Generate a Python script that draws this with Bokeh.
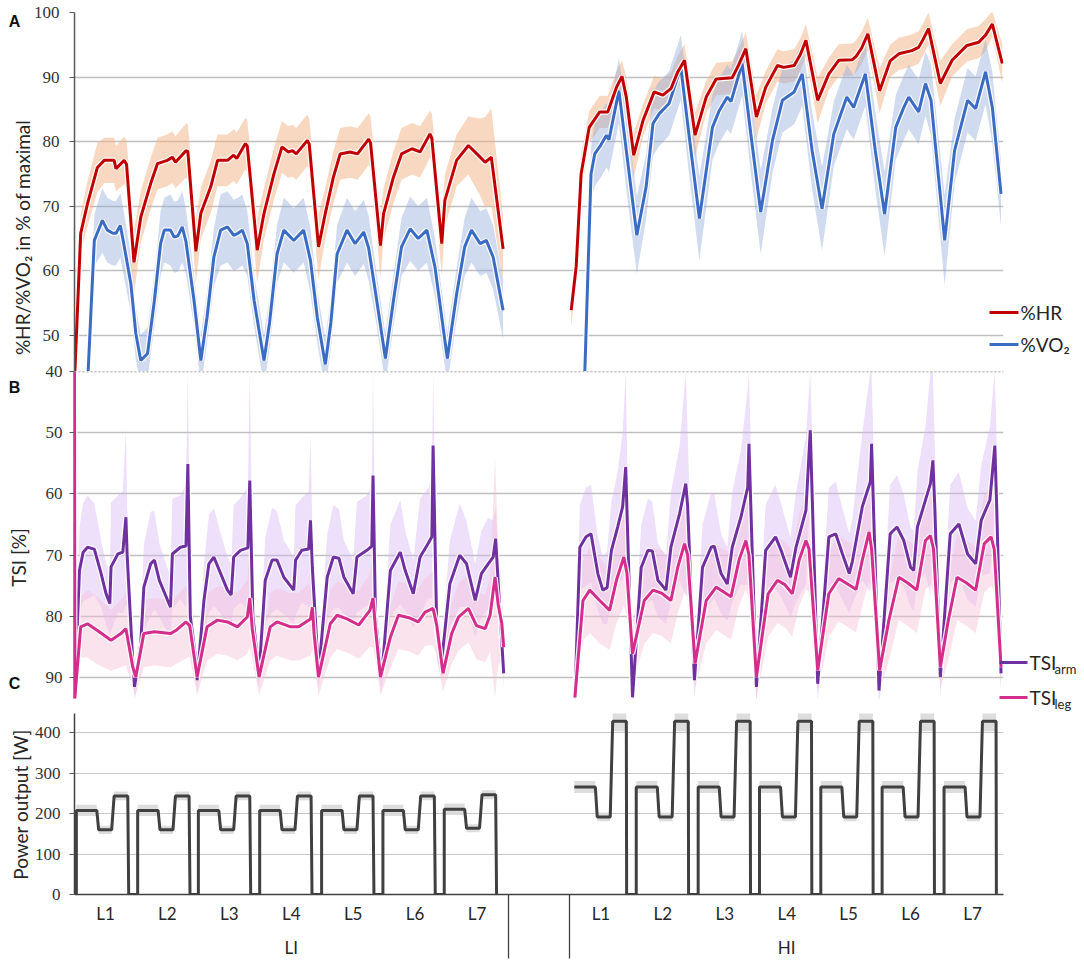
import math
from bokeh.plotting import figure
from bokeh.models import Range1d, FixedTicker, Span, ColumnDataSource, LinearAxis
from bokeh.layouts import column, row
from bokeh.embed import file_html
from bokeh.resources import INLINE
from bokeh.core.properties import value

# ---------------- data (x in lap units: LI laps 0-7, gap 7-8, HI laps 8-15) ----------------
CATEGORIES = ["L1", "L2", "L3", "L4", "L5", "L6", "L7"]
GROUPS = ["LI", "HI"]
LI_CENTERS = [0.5, 1.5, 2.5, 3.5, 4.5, 5.5, 6.5]
HI_CENTERS = [8.5, 9.5, 10.5, 11.5, 12.5, 13.5, 14.5]
GROUP_CENTERS = [3.5, 11.5]
GROUP_BOUNDS = [7, 8]

# (time, mean, sd)
HR_LI = [
    (0.00, 43.0, 2.0), (0.10, 65.8, 3.0), (0.21, 70.4, 3.5), (0.37, 76.0, 3.8), (0.48, 77.1, 3.5),
    (0.64, 77.1, 3.5), (0.67, 75.8, 3.5), (0.80, 77.1, 3.7), (0.84, 76.5, 3.8), (0.96, 61.3, 5.0),
    (1.07, 68.3, 4.0), (1.23, 73.5, 4.0), (1.34, 76.6, 4.0), (1.50, 77.1, 4.0), (1.58, 77.6, 4.0),
    (1.63, 76.8, 4.0), (1.80, 78.6, 4.2), (1.83, 78.5, 4.2), (1.96, 63.0, 5.0),
    (2.04, 68.9, 4.0), (2.20, 73.0, 4.0), (2.31, 77.1, 4.0), (2.47, 77.1, 4.0), (2.57, 77.9, 4.0),
    (2.62, 77.4, 4.0), (2.76, 79.7, 4.0), (2.79, 79.3, 4.0), (2.95, 63.2, 5.0),
    (3.06, 68.9, 4.0), (3.22, 75.0, 4.0), (3.35, 79.2, 4.0), (3.45, 78.4, 4.0), (3.52, 78.6, 4.0),
    (3.58, 78.1, 4.0), (3.76, 80.2, 4.0), (3.79, 79.6, 4.0), (3.94, 63.7, 5.0),
    (4.05, 68.9, 4.0), (4.18, 74.5, 4.0), (4.29, 78.1, 4.0), (4.45, 78.4, 4.0), (4.57, 78.1, 4.0),
    (4.75, 80.4, 4.0), (4.78, 79.8, 4.0), (4.94, 63.9, 5.0),
    (4.99, 68.8, 4.0), (5.15, 74.5, 4.0), (5.28, 78.1, 4.0), (5.45, 78.9, 4.0), (5.58, 78.4, 4.0),
    (5.74, 81.2, 3.6), (5.77, 80.5, 3.8), (5.93, 64.2, 5.0),
    (5.98, 70.9, 4.0), (6.17, 77.1, 4.0), (6.36, 79.4, 4.5), (6.55, 77.6, 6.0), (6.63, 76.8, 7.0),
    (6.73, 77.6, 7.5), (6.92, 63.4, 5.0),
]
VO2_LI = [
    (0.22, 44.4, 1.0), (0.32, 64.7, 4.0), (0.45, 67.8, 5.0), (0.53, 66.3, 5.0), (0.62, 65.8, 5.0),
    (0.67, 65.8, 5.0), (0.74, 67.0, 5.0), (0.79, 64.5, 5.0), (0.91, 58.0, 4.5), (0.99, 50.3, 4.0),
    (1.07, 46.1, 4.0),
    (1.18, 47.2, 4.0), (1.29, 55.4, 4.0), (1.39, 64.2, 5.0), (1.45, 66.3, 5.0), (1.55, 66.3, 5.5),
    (1.61, 65.2, 5.5), (1.67, 65.4, 5.5), (1.74, 66.8, 5.5), (1.80, 64.5, 5.0), (1.93, 55.4, 4.0),
    (2.04, 46.1, 4.0),
    (2.14, 52.8, 4.0), (2.25, 62.1, 4.5), (2.36, 66.3, 5.5), (2.47, 66.8, 5.5), (2.57, 65.5, 5.5),
    (2.64, 65.8, 5.5), (2.71, 66.3, 5.5), (2.79, 64.2, 5.0), (2.90, 55.4, 4.0), (3.06, 46.1, 4.0),
    (3.15, 52.0, 4.0), (3.27, 62.6, 4.5), (3.38, 66.3, 5.0), (3.54, 64.7, 5.0), (3.70, 66.3, 5.0),
    (3.81, 61.6, 5.0), (3.92, 52.8, 4.0), (4.05, 45.5, 4.0),
    (4.14, 52.0, 4.0), (4.24, 62.6, 4.5), (4.40, 66.3, 5.0), (4.53, 64.2, 5.0), (4.67, 66.0, 5.0),
    (4.75, 63.5, 5.0), (4.88, 55.4, 4.0), (5.02, 46.4, 4.0),
    (5.15, 55.4, 4.0), (5.28, 63.7, 4.5), (5.42, 66.5, 5.0), (5.55, 65.0, 5.0), (5.69, 66.3, 5.0),
    (5.82, 60.6, 4.5), (6.02, 46.4, 4.0),
    (6.17, 56.4, 4.0), (6.30, 63.7, 4.5), (6.41, 66.3, 5.0), (6.55, 64.2, 5.0), (6.65, 64.7, 5.0),
    (6.76, 62.1, 5.0), (6.92, 53.9, 4.5),
]
HR_HI = [
    (8.02, 53.9, 2.5), (8.10, 60.6, 3.0), (8.18, 75.0, 3.0), (8.31, 82.2, 2.5), (8.48, 84.6, 2.5),
    (8.61, 84.6, 2.5), (8.75, 88.4, 2.5), (8.84, 90.1, 2.5), (8.91, 86.9, 3.0), (9.03, 77.9, 3.5),
    (9.18, 83.3, 2.5), (9.36, 87.7, 2.5), (9.50, 87.2, 2.5), (9.63, 88.2, 2.5), (9.74, 90.8, 2.5),
    (9.85, 92.6, 2.5), (10.02, 81.0, 3.5),
    (10.20, 86.9, 2.5), (10.36, 89.7, 2.5), (10.62, 89.9, 2.5), (10.72, 91.8, 2.5), (10.84, 94.4, 2.5),
    (11.01, 83.8, 3.5),
    (11.16, 88.4, 2.5), (11.35, 91.8, 2.5), (11.45, 91.5, 2.5), (11.62, 91.8, 2.5), (11.72, 93.5, 2.5),
    (11.81, 95.7, 2.5), (12.00, 86.4, 3.5),
    (12.18, 90.5, 2.5), (12.34, 92.6, 2.5), (12.56, 92.7, 2.5), (12.62, 93.2, 2.5), (12.71, 94.5, 2.5),
    (12.81, 96.7, 2.5), (13.00, 87.9, 3.5),
    (13.17, 92.5, 2.5), (13.31, 93.6, 2.5), (13.52, 94.1, 2.5), (13.63, 94.6, 2.5), (13.70, 95.8, 2.5),
    (13.79, 97.5, 2.5), (13.98, 89.0, 3.5),
    (14.17, 92.6, 2.5), (14.41, 94.9, 2.5), (14.60, 95.4, 2.5), (14.71, 96.5, 2.5), (14.82, 98.2, 2.0),
    (14.98, 92.1, 3.0),
]
VO2_HI = [
    (8.24, 44.4, 1.0), (8.34, 75.0, 4.0), (8.40, 78.1, 5.0), (8.50, 79.5, 5.0), (8.59, 81.0, 5.0),
    (8.63, 80.3, 5.0), (8.79, 87.9, 5.0), (8.91, 78.6, 6.0), (9.08, 65.5, 6.0),
    (9.23, 73.0, 5.0), (9.34, 82.8, 5.0), (9.44, 84.3, 5.0), (9.55, 85.4, 5.0), (9.60, 85.9, 5.0),
    (9.79, 91.5, 5.0), (9.92, 81.2, 6.0), (10.09, 68.1, 6.5),
    (10.30, 82.2, 5.0), (10.41, 84.8, 5.0), (10.54, 86.9, 5.0), (10.60, 86.2, 5.0), (10.78, 92.1, 5.0),
    (10.92, 81.2, 6.0), (11.08, 69.1, 6.5),
    (11.27, 80.2, 5.0), (11.43, 86.4, 5.0), (11.62, 87.7, 5.0), (11.75, 90.5, 5.0), (11.91, 78.6, 6.0),
    (12.07, 69.6, 6.5),
    (12.26, 81.2, 5.0), (12.47, 86.9, 5.0), (12.58, 85.3, 5.0), (12.77, 90.5, 5.0), (12.93, 78.6, 6.0),
    (13.08, 68.8, 6.5),
    (13.26, 82.2, 5.0), (13.39, 85.3, 5.0), (13.47, 86.9, 5.0), (13.63, 84.6, 5.0), (13.74, 89.0, 5.0),
    (13.83, 86.4, 5.5), (14.05, 64.7, 7.0),
    (14.21, 78.6, 5.0), (14.42, 86.4, 5.0), (14.55, 85.1, 5.0), (14.71, 90.8, 5.0), (14.82, 85.3, 5.5),
    (14.96, 71.9, 5.0),
]
ARM_LI = [
    (0.00, 93.4, 1.0), (0.08, 72.5, 7.0), (0.14, 69.5, 8.0), (0.21, 68.7, 8.5), (0.32, 69.0, 7.5),
    (0.43, 73.0, 5.5), (0.51, 76.3, 5.0), (0.57, 77.9, 5.0), (0.59, 71.9, 10.5), (0.70, 69.8, 9.5),
    (0.78, 69.5, 10.0), (0.83, 63.8, 14.5), (0.85, 70.0, 8.0), (0.94, 87.2, 3.0), (0.97, 91.5, 2.0),
    (1.07, 84.4, 4.0), (1.12, 75.2, 7.0), (1.23, 71.4, 8.5), (1.29, 70.8, 8.0), (1.37, 74.1, 6.0),
    (1.55, 78.5, 5.0), (1.58, 69.8, 9.0), (1.71, 68.7, 8.5), (1.80, 68.5, 10.0), (1.83, 55.1, 15.1),
    (1.87, 80.0, 6.0), (1.96, 87.2, 3.0), (1.98, 90.4, 2.0),
    (2.09, 77.4, 6.0), (2.17, 71.4, 8.0), (2.25, 70.3, 8.0), (2.36, 73.0, 6.5), (2.47, 75.7, 5.5),
    (2.53, 76.5, 5.0), (2.57, 70.3, 8.5), (2.68, 69.2, 8.5), (2.80, 68.8, 10.0), (2.83, 57.8, 17.8),
    (2.88, 80.0, 6.0), (2.98, 89.3, 2.5),
    (3.08, 74.1, 7.0), (3.19, 70.8, 8.5), (3.27, 70.8, 8.0), (3.38, 73.6, 6.0), (3.54, 75.7, 5.5),
    (3.57, 70.8, 9.0), (3.67, 69.2, 8.5), (3.78, 69.0, 9.5), (3.81, 64.3, 13.6), (3.84, 72.0, 7.0),
    (3.94, 89.3, 2.5),
    (4.08, 73.6, 7.0), (4.18, 70.3, 8.5), (4.27, 70.5, 8.0), (4.35, 73.6, 6.0), (4.50, 76.3, 5.5),
    (4.56, 70.3, 9.0), (4.72, 69.2, 9.0), (4.80, 68.5, 10.0), (4.82, 57.0, 17.0), (4.86, 80.0, 6.0),
    (4.96, 89.9, 2.5),
    (5.10, 72.5, 7.5), (5.26, 69.5, 8.5), (5.34, 72.5, 6.5), (5.47, 76.3, 5.5), (5.58, 70.3, 9.5),
    (5.71, 68.1, 9.0), (5.77, 67.0, 10.0), (5.79, 52.1, 12.1), (5.85, 82.3, 5.0), (5.93, 87.2, 3.0),
    (6.06, 74.7, 7.0), (6.22, 70.0, 8.5), (6.33, 71.4, 7.0), (6.47, 77.4, 6.0), (6.57, 73.0, 7.0),
    (6.68, 71.4, 7.5), (6.76, 70.3, 6.0), (6.80, 67.3, 5.0), (6.85, 76.0, 4.0), (6.93, 89.3, 2.5),
]
LEG_LI = [
    (0.000, 40.0, 0.0), (0.005, 93.4, 0.5), (0.10, 81.7, 5.0), (0.21, 81.2, 5.5), (0.37, 82.3, 5.5),
    (0.59, 83.9, 5.0), (0.75, 82.8, 5.5), (0.83, 82.0, 6.0), (0.94, 88.2, 3.5), (0.99, 89.9, 3.0),
    (1.12, 82.8, 5.5), (1.29, 82.5, 5.5), (1.55, 82.8, 5.5), (1.65, 82.2, 5.5), (1.80, 80.9, 6.0),
    (1.86, 81.5, 5.0), (1.98, 89.9, 3.0),
    (2.14, 81.7, 5.5), (2.31, 80.6, 5.5), (2.47, 80.9, 5.5), (2.63, 81.7, 5.5), (2.79, 80.1, 6.0),
    (2.83, 77.0, 8.0), (2.87, 82.0, 5.0), (2.98, 89.9, 3.0),
    (3.16, 81.7, 5.5), (3.27, 80.9, 5.5), (3.49, 81.7, 5.5), (3.62, 81.7, 5.5), (3.81, 80.4, 6.0),
    (3.84, 78.5, 7.0), (3.87, 83.0, 5.0), (3.94, 89.9, 3.0),
    (4.13, 81.2, 5.5), (4.24, 79.8, 5.5), (4.40, 80.4, 5.5), (4.59, 81.4, 5.5), (4.77, 79.0, 6.0),
    (4.82, 77.0, 8.0), (4.86, 82.0, 5.0), (4.94, 89.9, 3.0),
    (5.10, 83.4, 5.0), (5.23, 79.8, 5.5), (5.40, 80.2, 5.5), (5.55, 80.9, 5.5), (5.66, 79.3, 5.5),
    (5.79, 78.7, 6.0), (5.85, 81.5, 5.0), (5.95, 89.3, 3.0),
    (6.09, 82.8, 5.0), (6.20, 80.1, 5.5), (6.36, 78.7, 5.5), (6.49, 81.5, 5.5), (6.63, 82.0, 5.5),
    (6.71, 79.8, 6.0), (6.79, 73.6, 19.6), (6.84, 78.0, 10.0), (6.90, 81.2, 6.0), (6.93, 85.0, 4.0),
]
ARM_HI = [
    (8.08, 93.2, 1.0), (8.16, 68.7, 7.0), (8.26, 67.0, 8.0), (8.34, 66.5, 8.0), (8.45, 73.0, 6.0),
    (8.53, 75.7, 5.5), (8.60, 75.3, 6.0), (8.67, 69.2, 8.0), (8.77, 65.4, 9.0), (8.85, 62.1, 12.0),
    (8.90, 55.6, 15.6), (8.93, 66.0, 8.0), (9.01, 93.2, 2.0),
    (9.15, 72.0, 7.0), (9.26, 69.2, 8.5), (9.33, 69.3, 8.0), (9.42, 74.1, 6.0), (9.55, 75.7, 5.5),
    (9.63, 68.7, 9.0), (9.77, 63.2, 11.0), (9.87, 58.3, 18.3), (9.90, 62.0, 12.0), (10.01, 90.4, 3.0),
    (10.14, 72.0, 7.0), (10.28, 68.7, 9.0), (10.33, 68.5, 8.5), (10.44, 73.0, 6.5), (10.54, 74.7, 6.0),
    (10.62, 68.7, 9.0), (10.76, 63.8, 11.0), (10.87, 58.9, 16.0), (10.89, 51.8, 11.8), (10.92, 62.0, 10.0),
    (11.01, 91.5, 3.0),
    (11.16, 69.2, 7.5), (11.32, 67.0, 8.5), (11.42, 69.5, 7.5), (11.56, 73.6, 6.5), (11.65, 68.7, 9.0),
    (11.81, 62.7, 12.0), (11.88, 49.6, 9.6), (11.91, 60.0, 10.0), (12.00, 91.0, 3.0),
    (12.18, 67.0, 8.0), (12.29, 66.5, 8.5), (12.40, 69.8, 7.5), (12.51, 73.0, 6.5), (12.56, 71.0, 7.0),
    (12.72, 62.1, 12.0), (12.85, 58.0, 18.0), (12.87, 51.8, 11.8), (12.90, 62.0, 10.0), (12.99, 92.1, 3.0),
    (13.17, 66.5, 8.0), (13.28, 65.4, 8.5), (13.39, 67.6, 7.5), (13.50, 72.0, 6.5), (13.55, 72.5, 6.5),
    (13.61, 65.4, 9.0), (13.74, 61.0, 12.0), (13.82, 58.3, 18.3), (13.86, 54.5, 14.5), (13.89, 62.0, 10.0),
    (13.98, 89.9, 3.0),
    (14.14, 66.5, 8.0), (14.28, 64.9, 8.5), (14.42, 69.8, 7.5), (14.55, 71.4, 7.0), (14.64, 64.3, 9.0),
    (14.78, 61.0, 12.0), (14.86, 52.1, 12.1), (14.89, 62.0, 10.0), (14.96, 89.3, 3.0),
]
LEG_HI = [
    (8.08, 93.2, 1.0), (8.21, 77.4, 6.5), (8.32, 75.7, 7.0), (8.48, 77.4, 7.0), (8.64, 79.0, 6.5),
    (8.75, 74.1, 7.0), (8.87, 70.3, 8.0), (8.92, 73.0, 7.0), (9.01, 86.1, 5.0),
    (9.20, 77.4, 7.0), (9.34, 75.7, 7.0), (9.48, 76.2, 7.0), (9.63, 77.4, 7.0), (9.74, 72.0, 7.5),
    (9.85, 68.1, 8.0), (9.90, 70.0, 7.0), (10.02, 87.7, 4.0),
    (10.20, 77.4, 7.0), (10.36, 75.2, 7.0), (10.60, 76.8, 7.0), (10.73, 70.8, 7.5), (10.84, 67.6, 8.0),
    (10.89, 70.0, 7.0), (11.01, 89.9, 3.5),
    (11.20, 76.3, 7.0), (11.35, 74.1, 7.0), (11.47, 74.8, 7.0), (11.59, 76.3, 7.0), (11.70, 70.8, 7.5),
    (11.81, 67.6, 8.0), (11.86, 69.0, 7.0), (12.00, 88.8, 3.5),
    (12.18, 76.3, 7.0), (12.34, 73.8, 7.0), (12.56, 75.2, 7.0), (12.62, 75.6, 7.0), (12.72, 70.8, 7.5),
    (12.83, 66.2, 8.0), (12.87, 69.0, 7.0), (13.00, 88.8, 3.5),
    (13.15, 80.6, 6.5), (13.31, 73.6, 7.0), (13.45, 74.5, 7.0), (13.60, 75.7, 7.0), (13.74, 67.6, 8.0),
    (13.82, 66.8, 8.0), (13.87, 69.0, 7.0), (13.98, 88.3, 3.5),
    (14.11, 80.6, 6.5), (14.25, 73.6, 7.0), (14.40, 74.5, 7.0), (14.55, 75.7, 7.0), (14.69, 68.1, 8.0),
    (14.80, 67.0, 8.0), (14.85, 69.0, 7.0), (14.96, 88.3, 3.5),
]

# power output: lap start times, stage levels [W], stage SD [W], stage on/off (relative to lap start)
LI_START = [0.03, 1.02, 2.00, 2.99, 3.99, 4.98, 5.97]
LI_LEVELS = [[208, 160, 244], [208, 160, 244], [208, 160, 244], [208, 160, 244],
             [208, 160, 244], [208, 160, 244], [211, 164, 247]]
LI_SD = [14, 10, 11]
LI_PHASES = [(0.0, 0.33), (0.36, 0.57), (0.61, 0.83)]
HI_START = [8.07, 9.07, 10.07, 11.06, 12.05, 13.04, 14.04]
HI_LEVELS = [[266, 192, 429], [266, 192, 429], [266, 192, 429], [266, 192, 429],
             [266, 192, 429], [266, 192, 429], [266, 192, 429]]
HI_SD = [15, 11, 25]
HI_PHASES = [(0.0, 0.34), (0.37, 0.58), (0.62, 0.84)]
HI_FIRST_FROM_ZERO = False
LAP_END = 0.845

# texts placed on the transparent overlay (page pixels)
PANEL_LETTERS = ["A", "B", "C"]
Y_TITLES = ["%HR/%VO₂ in % of maximal", "TSI [%]", "Power output [W]"]
LEGEND_A = ["%HR", "%VO₂"]
LEGEND_B = ["TSI", "TSI"]
LEGEND_B_SUB = ["arm", "leg"]

# ---------------- styling ----------------
FW = 929
LEFT, RIGHT = 74, 70
TOTAL_W = LEFT + FW + RIGHT
SANS = "Lato"
SERIF = "Liberation Serif"
TXT = "#262626"
AX = "#595959"
C_HR, C_VO2, C_ARM, C_LEG = "#c00000", "#3b6cc4", "#7030a0", "#d42d8c"
SEP_LEN = 64


def src(rows):
    return ColumnDataSource(dict(
        t=[r[0] for r in rows], v=[r[1] for r in rows],
        lo=[r[1] - r[2] for r in rows], hi=[r[1] + r[2] for r in rows]))


def make_fig(fh, yr, top, bottom, xaxis=False):
    p = figure(frame_width=FW, frame_height=fh, x_range=Range1d(0, 15), y_range=yr,
               output_backend="svg", toolbar_location=None,
               x_axis_location="below" if xaxis else None, y_axis_location="left",
               min_border_left=LEFT, min_border_right=RIGHT,
               min_border_top=top, min_border_bottom=bottom)
    p.outline_line_color = None
    p.xgrid.visible = False
    ax = p.yaxis[0]
    ax.major_label_text_font = SERIF
    ax.major_label_text_font_size = "17px"
    ax.major_label_text_color = "#333333"
    ax.axis_line_color = AX
    ax.axis_line_width = 1.5
    ax.major_tick_line_color = AX
    ax.major_tick_out = 5
    ax.major_tick_in = 0
    ax.minor_tick_line_color = None
    p.ygrid.grid_line_color = "#bfbfbf"
    p.ygrid.grid_line_width = 1.5
    return p


def draw_line(p, s, color, width=3):
    p.line("t", "v", source=s, line_color="white", line_width=width + 2.5, line_alpha=0.9)
    return p.line("t", "v", source=s, line_color=color, line_width=width)


# ---------------- panel A ----------------
HA = 359
pA = make_fig(HA, Range1d(44.4, 100), 12, 0)
pA.yaxis[0].ticker = FixedTicker(ticks=[50, 60, 70, 80, 90, 100])
pA.yaxis[0].major_label_standoff = 10
pA.ygrid.ticker = FixedTicker(ticks=[50, 60, 70, 80, 90, 100])

for rows in (HR_LI, HR_HI):
    pA.varea("t", "lo", "hi", source=src(rows), fill_color="#f4b183", fill_alpha=0.5)
for rows in (VO2_LI, VO2_HI):
    pA.varea("t", "lo", "hi", source=src(rows), fill_color="#8eaadb", fill_alpha=0.42)
for r in (VO2_LI, VO2_HI):
    draw_line(pA, src(r), C_VO2)
for r in (HR_LI, HR_HI):
    draw_line(pA, src(r), C_HR)

# ---------------- panel B ----------------
HB = 327
pB = make_fig(HB, Range1d(93.4, 40), 9, 14)
pB.border_fill_color = None
pB.margin = (-9, 0, 0, 0)
pB.yaxis[0].ticker = FixedTicker(ticks=[40, 50, 60, 70, 80, 90])
pB.yaxis[0].major_label_standoff = 7
pB.yaxis[0].axis_line_color = C_LEG
pB.yaxis[0].axis_line_width = 2.5
pB.ygrid.ticker = FixedTicker(ticks=[50, 60, 70, 80, 90])
pB.add_layout(Span(location=40, dimension="width", line_color="#7f7f7f",
                   line_dash="2 2", line_width=1.3))

for rows in (ARM_LI, ARM_HI):
    pB.varea("t", "lo", "hi", source=src(rows), fill_color="#d7b4f2", fill_alpha=0.42)
for rows in (LEG_LI, LEG_HI):
    pB.varea("t", "lo", "hi", source=src(rows), fill_color="#f6bcd6", fill_alpha=0.42)
for r in (ARM_LI, ARM_HI):
    draw_line(pB, src(r), C_ARM)
for r in (LEG_LI, LEG_HI):
    draw_line(pB, src(r), C_LEG)

# ---------------- panel C ----------------
HC = 181
pC = make_fig(HC, Range1d(0, 448), 1, 0, xaxis=True)
pC.yaxis[0].ticker = FixedTicker(ticks=[0, 100, 200, 300, 400])
pC.yaxis[0].major_label_standoff = 9
pC.yaxis[0].axis_line_color = "#404040"
pC.ygrid.ticker = FixedTicker(ticks=[100, 200, 300, 400])
pC.ygrid.grid_line_color = "#c8c8c8"
pC.ygrid.grid_line_width = 1.2

centers = LI_CENTERS + HI_CENTERS
xa = pC.xaxis[0]
xa.ticker = FixedTicker(ticks=centers, minor_ticks=GROUP_BOUNDS)
xa.major_label_overrides = {c: n for c, n in zip(centers, CATEGORIES + CATEGORIES)}
xa.major_label_text_font = SANS
xa.major_label_text_font_size = "17px"
xa.major_label_text_color = TXT
xa.major_label_standoff = 8 - SEP_LEN
xa.major_tick_out = 0
xa.major_tick_in = 0
xa.major_tick_line_color = None
xa.minor_tick_out = SEP_LEN
xa.minor_tick_in = 0
xa.minor_tick_line_color = "#404040"
xa.minor_tick_line_width = 1.3
xa.axis_line_color = "#404040"
xa.axis_line_width = 1.5

xg = LinearAxis(ticker=FixedTicker(ticks=GROUP_CENTERS, minor_ticks=[]),
                major_label_overrides={c: g for c, g in zip(GROUP_CENTERS, GROUPS)},
                major_label_text_font=SANS, major_label_text_font_size="17px",
                major_label_text_color=TXT, major_label_standoff=10,
                axis_line_color=None, major_tick_line_color=None, minor_tick_line_color=None,
                major_tick_out=0, major_tick_in=0)
pC.add_layout(xg, "below")
pC.min_border_bottom = 62

qx0, qx1, qb, qt = [], [], [], []
pts_x, pts_y = [], []
for starts, levels, sds, phases, from_zero in (
        (LI_START, LI_LEVELS, LI_SD, LI_PHASES, True),
        (HI_START, HI_LEVELS, HI_SD, HI_PHASES, HI_FIRST_FROM_ZERO)):
    for i, (s, lv) in enumerate(zip(starts, levels)):
        if i > 0 or from_zero:
            pts_x.append(s)
            pts_y.append(0)
        for (a, b), L, sd in zip(phases, lv, sds):
            pts_x += [s + a, s + b]
            pts_y += [L, L]
            qx0.append(s + a)
            qx1.append(s + b)
            qb.append(L - sd)
            qt.append(L + sd)
        pts_x.append(s + LAP_END)
        pts_y.append(0)
    pts_x.append(float("nan"))
    pts_y.append(float("nan"))

pC.quad(left=qx0, right=qx1, bottom=qb, top=qt, fill_color="#d9d9d9", fill_alpha=0.9,
        line_color=None)
pC.line(pts_x, pts_y, line_color="#404040", line_width=3)

# ---------------- transparent overlay with free texts and legend keys ----------------
OW, OH = 1080, 956
ov = figure(width=OW, height=OH, x_range=Range1d(0, OW), y_range=Range1d(OH, 0),
            min_border=0, toolbar_location=None, output_backend="svg",
            x_axis_location=None, y_axis_location=None)
ov.outline_line_color = None
ov.background_fill_color = None
ov.border_fill_color = None
ov.grid.visible = False
ov.margin = (0, 0, 0, -TOTAL_W)

ov.text(x=[14, 14, 14], y=[21, 387, 683], text=PANEL_LETTERS,
        text_font=value("Liberation Sans"), text_font_style="bold",
        text_font_size=value("16px"), text_color="#111111",
        text_align="center", text_baseline="middle")
ov.text(x=[22, 18, 20], y=[237, 557, 804], text=Y_TITLES, angle=math.pi / 2,
        text_font=value(SANS), text_font_size=value("19px"), text_color=TXT,
        text_align="center", text_baseline="middle")
ov.segment(x0=[989, 989, 999, 999], y0=[312, 344, 662, 697],
           x1=[1018, 1018, 1027, 1027], y1=[312, 344, 662, 697],
           line_color=[C_HR, C_VO2, C_ARM, C_LEG], line_width=3)
ov.text(x=[1020, 1020], y=[312, 344], text=LEGEND_A,
        text_font=value(SANS), text_font_size=value("19px"), text_color=TXT,
        text_align="left", text_baseline="middle")
ov.text(x=[1029, 1029], y=[662, 697], text=LEGEND_B,
        text_font=value(SANS), text_font_size=value("19px"), text_color=TXT,
        text_align="left", text_baseline="middle")
ov.text(x=[1054, 1054], y=[668, 703], text=LEGEND_B_SUB,
        text_font=value(SANS), text_font_size=value("13px"), text_color=TXT,
        text_align="left", text_baseline="middle")

layout = row(column(pA, pB, pC, spacing=0), ov, spacing=0)
open("out.html", "w").write(file_html(layout, INLINE))
